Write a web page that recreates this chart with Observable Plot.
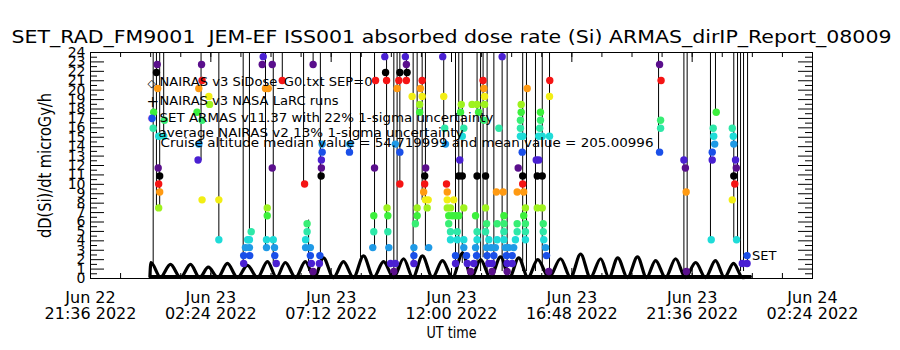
<!DOCTYPE html>
<html><head><meta charset="utf-8">
<script src="https://cdn.jsdelivr.net/npm/d3@7"></script>
<script src="https://cdn.jsdelivr.net/npm/@observablehq/plot@0.6"></script>
<style>body{margin:0;background:#fff} svg{display:block}</style>
</head><body><div id="chart"></div>
<script>
// ---- text ----
const titleText = "SET_RAD_FM9001\u00a0\u00a0JEM-EF ISS001 absorbed dose rate (Si) ARMAS_dirIP_Report_08009";
const yLabel = "dD(Si)/dt microGy/h";
const xLabel = "UT time";
const legendLines = [
  "NAIRAS v3 SiDose_G0.txt SEP=0",
  "NAIRAS v3 NASA LaRC runs",
  "SET ARMAS v11.37 with 22% 1-sigma uncertainty",
  "average NAIRAS v2 13% 1-sigma uncertainty",
  "Cruise altitude median value = 54.719999 and mean value = 205.00996"
];
const seriesLabel = "SET";

// ---- axis ticks (hours relative to 2022-06-23 00:00 UT) ----
const xMajorHours = [-2.4, 2.4, 7.2, 12, 16.8, 21.6, 26.4];
const yTickValues = [0,1,2,3,4,5,6,7,8,9,10,11,12,13,14,15,16,17,18,19,20,21,22,23,24];

// ---- SET ARMAS dose levels (discrete steps seen in the plot) ----
const doseLevels = [0.74,1.59,2.43,3.28,4.12,4.97,5.81,6.66,7.50,8.35,9.19,10.04,10.89,11.73,
  12.58,13.42,14.27,15.11,15.96,16.80,17.65,18.49,19.34,20.18,21.03,21.87,22.72,23.56];

// ---- SET ARMAS samples [UT hour on Jun 23, dose rate] ----
const setPassA = [[0.26,22.72],[0.23,21.87],[0.28,20.18],[0.12,17.65],[0.10,15.96],[0.32,15.11],[0.52,15.11],[0.55,16.80],
  [0.30,11.73],[0.36,10.89],[0.32,10.04],[0.36,9.19],[0.32,7.50],
  [2.03,22.72],[2.05,21.03],[1.92,20.18],[2.32,19.34],[2.35,18.49],[1.85,17.65],[2.05,16.80],[1.92,14.27],[1.89,12.58],
  [2.05,8.35],[2.72,8.35],[2.72,4.12]];
const setPassB = [[3.71,1.59],[3.71,2.43],[3.78,3.28],[3.87,4.12],[4.01,4.97],[3.95,2.43],[3.94,3.28],[3.94,4.12],
  [4.49,23.56],[4.45,22.72],[4.85,22.72],[4.58,20.18],[4.69,20.18],[4.65,7.50],[4.65,6.66],[4.62,4.12],[4.62,3.28],
  [4.89,4.12],[4.94,3.28],[4.95,2.43],[5.01,1.59],[4.85,11.73],[5.25,21.03]];
const setPassC = [[6.48,22.72],[6.14,10.04],[6.24,5.81],[6.24,4.97],[6.18,4.12],[6.18,3.28],[6.37,3.28],[6.37,2.43],
  [6.41,1.59],[6.48,0.74],[6.84,13.42],[6.81,12.58],[6.81,11.73],[6.80,10.89],[6.75,2.43],[6.73,1.59],[6.84,14.27],
  [7.93,13.42],[7.94,14.27]];
const setPassD = [[8.97,21.03],[8.93,11.73],[8.90,6.66],[8.90,4.97],[8.86,3.28],[9.34,23.56],[9.37,21.87],[9.41,21.03],
  [9.43,7.50],[9.46,6.66],[9.46,4.97],[9.50,3.28],[9.57,1.59],[9.76,1.59],[9.70,0.74],[9.83,20.18],[9.90,21.03],
  [9.94,21.87],[9.94,13.42],[9.94,10.04],[9.76,14.27]];
const setPassE = [[10.16,23.56],[10.20,22.72],[10.23,21.87],[10.20,21.03],[10.43,19.34],[10.50,2.43],[10.50,3.28],
  [10.56,5.81],[10.63,6.66],[10.63,7.50],[10.50,1.59],[10.76,20.18],[10.83,21.03],[10.83,19.34],[10.73,18.49],
  [10.73,17.65],[10.89,9.19],[10.93,10.04],[10.93,10.89],[10.97,11.73],[10.96,8.35],[11.07,8.35],[11.03,7.50],[11.09,3.28]];
const setPassF = [[11.65,23.56],[11.69,19.34],[11.73,15.96],[11.76,14.27],[11.80,10.04],[11.83,9.19],[11.83,8.35],
  [12.09,8.35],[11.83,7.50],[11.96,7.50],[11.89,6.66],[12.03,6.66],[12.16,6.66],[12.29,6.66],[11.89,5.81],[11.96,4.97],
  [11.96,4.12],[12.23,4.97],[12.23,4.12],[12.49,4.12],[12.49,7.50],[12.49,3.28],[12.16,2.43],[12.16,1.59],[12.33,12.58],
  [12.29,10.89],[12.43,10.89],[12.96,3.28],[12.96,6.66],[13.02,4.97],[13.02,4.12],[13.00,2.43],[12.89,1.59],[13.02,10.89],
  [12.60,2.43],[12.63,1.59],[12.76,0.74],[12.39,18.49],[12.36,17.65],[12.49,15.96],[12.43,15.11],[12.82,18.49],
  [13.02,18.49],[13.08,17.65]];
const setPassG = [[13.26,21.03],[13.29,20.18],[13.32,19.34],[13.32,18.49],[13.29,16.80],[14.02,23.56],[13.89,15.96],
  [15.02,20.18],[14.78,18.49],[14.78,17.65],[14.75,16.80],[14.75,15.96],[14.75,15.11],[14.84,15.11],[14.82,13.42],
  [15.92,21.03],[15.91,19.34],[15.55,17.65],[15.55,16.80],[15.52,15.96],[15.48,15.11],[15.62,15.11],[15.91,15.11],
  [15.38,12.58],[15.48,12.58],[14.66,11.73],[13.36,10.89],[14.84,10.89],[15.42,10.89],[15.62,10.89],[14.84,10.04],
  [13.79,9.19],[14.06,9.19],[14.62,9.19],[14.88,9.19],[13.36,7.50],[14.95,7.50],[15.42,7.50],[15.62,7.50],[14.09,6.66],
  [14.88,6.66],[13.36,4.97],[13.40,5.81],[13.82,5.81],[14.09,5.81],[14.62,5.81],[14.95,5.81],[15.66,5.81],[14.09,4.97],
  [14.62,4.97],[14.95,4.97],[15.66,4.97],[13.49,4.12],[13.82,4.12],[14.09,4.12],[14.55,4.12],[14.95,4.12],[15.68,4.12],
  [13.40,3.28],[13.58,3.28],[13.75,3.28],[14.15,3.28],[14.28,3.28],[14.48,3.28],[15.75,3.28],[13.42,2.43],[13.69,2.43],
  [14.19,2.43],[14.42,2.43],[15.79,2.43],[13.49,1.59],[13.62,1.59],[14.22,1.59],[14.42,1.59],[13.62,0.74],[14.22,0.74],
  [15.88,0.74]];
const setPassH = [[20.30,22.72],[20.36,21.03],[20.34,16.80],[20.34,15.96],[20.30,13.42],[21.27,12.58],[21.33,11.73],
  [21.36,9.19],[21.37,0.74],[22.56,17.65],[22.44,15.96],[22.46,15.11],[22.50,14.27],[22.40,13.42],[22.40,12.58],
  [22.36,4.12],[23.20,15.96],[23.24,15.11],[23.26,14.27],[23.33,12.58],[23.36,11.73],[23.26,10.89],[23.30,10.04],
  [23.20,8.35],[23.37,4.12],[23.60,1.59],[23.79,1.59],[23.79,2.43]];

// ---- SET trace excursions running off scale [hour, low, high] ----
const setSpikes = [[0.10,1.6,24],[0.23,7.5,24],[0.36,7.5,24],[0.52,14.7,24],[2.01,12.5,24],[2.72,4.1,24],[3.69,1.6,24],
  [3.94,4.9,24],[4.58,3.0,24],[4.89,1.6,24],[5.25,21.0,24],[6.10,10.0,24],[6.30,0.74,6.2],[6.48,22.7,24],[6.77,1.6,24],
  [7.97,13.4,24],[8.37,2.2,24],[8.93,3.0,24],[9.41,1.6,24],[9.70,0.74,24],[9.83,0.74,24],[9.94,10.0,24],[10.20,21.0,24],
  [10.47,1.6,24],[10.63,5.8,24],[10.83,8.3,24],[10.96,3.0,24],[11.69,14.2,24],[12.16,1.6,24],[12.29,1.6,24],
  [12.43,1.6,24],[13.02,1.6,24],[13.16,0.74,24],[13.26,2.2,24],[13.42,0.74,24],[13.69,0.74,24],[14.02,0.74,24],
  [14.22,0.74,24],[14.84,0.74,24],[14.99,0.74,24],[15.35,0.74,24],[15.62,0.74,24],[15.91,0.74,24],[20.26,13.4,24],
  [21.27,0.74,24],[21.40,0.74,24],[22.33,4.1,24],[22.53,17.6,24],[23.26,4.1,24],[23.41,4.1,24],[23.53,0.74,24],
  [23.65,0.74,24],[23.81,1.6,24]];

// ---- NAIRAS model along the ISS track ----
const nairasHour = [-0.03,0.01,0.39,0.79,1.19,1.59,1.95,2.30,2.68,3.06,3.46,3.86,4.26,4.66,5.02,5.37,5.78,6.17,6.53,
  6.89,7.29,7.69,8.09,8.49,8.89,9.29,9.69,10.09,10.46,10.84,11.24,11.64,12.04,12.44,12.80,13.16,13.55,13.96,14.31,
  14.68,15.05,15.44,15.89,16.35,16.75,17.15,17.54,17.95,18.28,18.63,19.02,19.42,19.78,20.14,20.54,20.94,21.33,21.74,
  22.13,22.53,22.89,23.25,23.61,23.92];
const nairasDose = [0.2,1.7,0.15,1.5,0.1,1.5,0.1,1.2,0.1,1.6,0.1,1.4,0.1,1.8,0.1,1.7,0.1,1.8,0.1,2.2,0.1,1.8,0.1,
  2.4,0.1,1.8,0.1,2.1,0.1,2.4,0.1,1.9,0.1,2.7,0.1,2.0,0.1,2.3,0.1,2.2,0.1,2.0,0.1,2.1,0.1,2.6,0.1,2.1,0.1,2.2,0.1,
  2.3,0.1,1.9,0.1,2.1,0.1,1.7,0.1,1.9,0.1,1.6,0.1,0.2];
const nairasFloor = 0.15;

// ---- build ----
const base = Date.UTC(2022, 5, 23);
const toDate = h => new Date(base + h * 3600000);
const setAll = [...setPassA, ...setPassB, ...setPassC, ...setPassD, ...setPassE, ...setPassF, ...setPassG, ...setPassH];
const nairas = nairasHour.map((h, i) => ({time: toDate(h), dose: nairasDose[i]}));
const palette = ["#5a0f8c","#4a20d2","#1a4fe8","#1f9ae6","#1fdcd8","#2ee8a8","#38ee74","#3cf03c","#9ef21e","#f2ee14","#ff9a12","#f51414","#000000"];
const thresholds = d3.pairs(doseLevels, (a, b) => (a + b) / 2);
const levelColors = doseLevels.map((_, i) => palette[i % palette.length]);
const xMinorHours = d3.range(-2.4, 26.41, 1.2);
const yMinor = d3.range(0.5, 24, 1);
const W = 900, H = 350, mL = 90, mR = 88, mT = 52, mB = 72;
const fW = W - mL - mR, fH = H - mT - mB;
const fmt = d3.utcFormat("%b %d\n%H:%M %Y");
const font = "DejaVu Sans";
const legendAt = (text, dx, dy, extra = {}) =>
  Plot.text([text], {frameAnchor: "top-left", dx, dy, textAnchor: "start", lineAnchor: "middle", text: d => d, fontSize: 13, ...extra});

const svg = Plot.plot({
  width: W, height: H, marginLeft: mL, marginRight: mR, marginTop: mT, marginBottom: mB,
  style: {fontFamily: font, fontSize: "13px", color: "black", background: "white", overflow: "visible"},
  x: {type: "utc", domain: [toDate(-2.4), toDate(26.4)], axis: null},
  y: {domain: [0, 24], axis: null},
  color: {type: "threshold", domain: thresholds, range: levelColors},
  marks: [
    Plot.ruleX(setSpikes, {x: d => toDate(d[0]), y1: d => d[1], y2: d => d[2], stroke: "black", strokeWidth: 1}),
    Plot.ruleY([nairasFloor], {y: d => d, x1: () => toDate(nairasHour[0]), x2: () => toDate(nairasHour[nairasHour.length - 1]), stroke: "black", strokeWidth: 4}),
    Plot.line(nairas, {x: "time", y: "dose", curve: "monotone-x", stroke: "black", strokeWidth: 3.2}),
    Plot.dot(setAll, {x: d => toDate(d[0]), y: d => d[1], fill: d => d[1], r: 3.7}),
    Plot.text([setPassH[setPassH.length - 1]], {x: d => toDate(d[0]), y: d => d[1], text: () => seriesLabel, dx: 5, textAnchor: "start", fontSize: 13}),
    Plot.frame({stroke: "black"}),
    // y ticks (inward, left and right)
    Plot.tickY(yTickValues, {y: d => d, insetRight: fW - 14, stroke: "black"}),
    Plot.tickY(yMinor, {y: d => d, insetRight: fW - 7, stroke: "black"}),
    Plot.tickY(yTickValues, {y: d => d, insetLeft: fW - 14, stroke: "black"}),
    Plot.tickY(yMinor, {y: d => d, insetLeft: fW - 7, stroke: "black"}),
    // x ticks (inward, bottom and top)
    Plot.tickX(xMajorHours, {x: d => toDate(d), insetTop: fH - 10, stroke: "black"}),
    Plot.tickX(xMajorHours, {x: d => toDate(d), insetBottom: fH - 10, stroke: "black"}),
    Plot.tickX(xMinorHours, {x: d => toDate(d), insetTop: fH - 5, stroke: "black"}),
    Plot.tickX(xMinorHours, {x: d => toDate(d), insetBottom: fH - 5, stroke: "black"}),
    // tick labels
    Plot.text(yTickValues, {y: d => d, frameAnchor: "left", dx: -5, textAnchor: "end", lineAnchor: "middle", text: d => String(d), fontSize: 14}),
    Plot.text(xMajorHours, {x: d => toDate(d), frameAnchor: "bottom", dy: 13.5, lineAnchor: "top", textAnchor: "middle", lineHeight: 1, text: d => fmt(toDate(d)), fontSize: 16}),
    // axis titles and title
    Plot.text([xLabel], {frameAnchor: "bottom", dy: 54, textAnchor: "middle", lineAnchor: "middle", text: d => d, fontSize: 16}),
    Plot.text([yLabel], {frameAnchor: "left", dx: -45, rotate: -90, textAnchor: "middle", lineAnchor: "middle", text: d => d, fontSize: 17}),
    Plot.text([titleText], {frameAnchor: "top", dy: -15, textAnchor: "middle", lineAnchor: "middle", text: d => d, fontSize: 18}),
    // legend
    legendAt("\u25c7", 57, 31, {fontSize: 11}),
    legendAt("+", 56, 50, {fontSize: 15}),
    legendAt("\u25cf", 57, 65, {fontSize: 10, fill: palette[2]}),
    legendAt(legendLines[0], 69, 29),
    legendAt(legendLines[1], 69, 48),
    legendAt(legendLines[2], 69, 65.5),
    legendAt(legendLines[3], 68, 80),
    legendAt(legendLines[4], 70, 90)
  ]
});

// fit text widths to the reference layout
const fit = new Map([
  [titleText, 880], [yLabel, 145], [xLabel, 50],
  [legendLines[0], 213], [legendLines[1], 179], [legendLines[2], 334], [legendLines[3], 305], [legendLines[4], 493]
]);
d3.select(svg).selectAll("text").each(function() {
  const w = fit.get(this.textContent);
  if (w) { this.setAttribute("textLength", w); this.setAttribute("lengthAdjust", "spacingAndGlyphs"); }
});
document.getElementById("chart").appendChild(svg);
</script>
</body></html>
